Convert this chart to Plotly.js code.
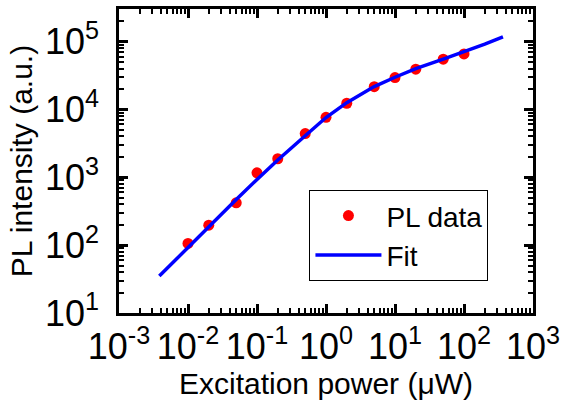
<!DOCTYPE html>
<html>
<head>
<meta charset="utf-8">
<script src="https://cdn.plot.ly/plotly-3.0.1.min.js"></script>
<style>html,body{margin:0;padding:0;background:#fff;}#chart{width:567px;height:403px;}</style>
</head>
<body>
<div id="chart"></div>
<script>
// PL data (excitation power in µW, PL intensity in a.u.)
const powerData = [0.01, 0.02, 0.05, 0.1, 0.2, 0.5, 1, 2, 5, 10, 20, 50, 100];
const intensityData = [106, 197, 421, 1164, 1876, 4400, 7650, 12330, 21670, 29440, 39170, 54950, 65800];

// Fit curve
const powerFit = [0.00384, 0.01, 0.02, 0.05, 0.1, 0.2, 0.5, 1, 2, 5, 10, 20, 50, 100, 200, 367];
const intensityFit = [35, 93, 185, 470, 930, 1800, 4100, 7600, 12600, 21700, 29800, 40000, 55000, 70000, 91500, 117000];

// Tick labels
const xTickVals = [0.001, 0.01, 0.1, 1, 10, 100, 1000];
const xTickText = ['10<sup>-3</sup>', '10<sup>-2</sup>', '10<sup>-1</sup>', '10<sup>0</sup>', '10<sup>1</sup>', '10<sup>2</sup>', '10<sup>3</sup>'];
const yTickVals = [10, 100, 1000, 10000, 100000];
const yTickText = ['10<sup>1</sup>', '10<sup>2</sup>', '10<sup>3</sup>', '10<sup>4</sup>', '10<sup>5</sup>'];

const FONT = 'Liberation Sans, Arial, sans-serif';

function minorVals(tickVals) {
  const out = [];
  tickVals.forEach(function (d) { for (let k = 2; k <= 9; k++) out.push(k * d); });
  return out;
}

const traces = [
  {
    x: powerData, y: intensityData, type: 'scatter', mode: 'markers', name: 'PL data',
    marker: {color: '#FF0000', size: 11}
  },
  {
    x: powerFit, y: intensityFit, type: 'scatter', mode: 'lines', name: 'Fit',
    line: {color: '#0000FF', width: 3.5}
  }
];

function axis(range, vals, text, minor, extra) {
  return Object.assign({
    type: 'log', range: range,
    showline: true, linecolor: 'black', linewidth: 2.5, mirror: 'allticks',
    ticks: 'inside', ticklen: 9, tickwidth: 2.5, tickcolor: 'black',
    showgrid: false, zeroline: false,
    tickmode: 'array', tickvals: vals, ticktext: text,
    tickfont: {family: FONT, size: 36, color: 'black'},
    minor: {tickmode: 'array', tickvals: minor, ticks: 'inside', ticklen: 5, tickwidth: 2, tickcolor: 'black', showgrid: false}
  }, extra);
}

const layout = {
  width: 567, height: 403,
  margin: {l: 119, r: 34, t: 9, b: 90},
  paper_bgcolor: 'white', plot_bgcolor: 'white',
  xaxis: axis([-3, 3], xTickVals, xTickText, minorVals(xTickVals), {
    title: {text: 'Excitation power (\u03bcW)', font: {family: FONT, size: 30, color: 'black'}, standoff: 6}
  }),
  yaxis: axis([1, 5.48], yTickVals, yTickText, minorVals(yTickVals), {
    ticklabelstandoff: 10,
    title: {text: 'PL intensity (a.u.)', font: {family: FONT, size: 30, color: 'black'}, standoff: 4}
  }),
  showlegend: true,
  legend: {
    x: 0.46, y: 0.405, xanchor: 'left', yanchor: 'top',
    bgcolor: 'white', bordercolor: 'black', borderwidth: 1,
    font: {family: FONT, size: 28, color: 'black'},
    itemwidth: 66, tracegroupgap: 0
  }
};

Plotly.newPlot('chart', traces, layout, {displayModeBar: false});
</script>
</body>
</html>
